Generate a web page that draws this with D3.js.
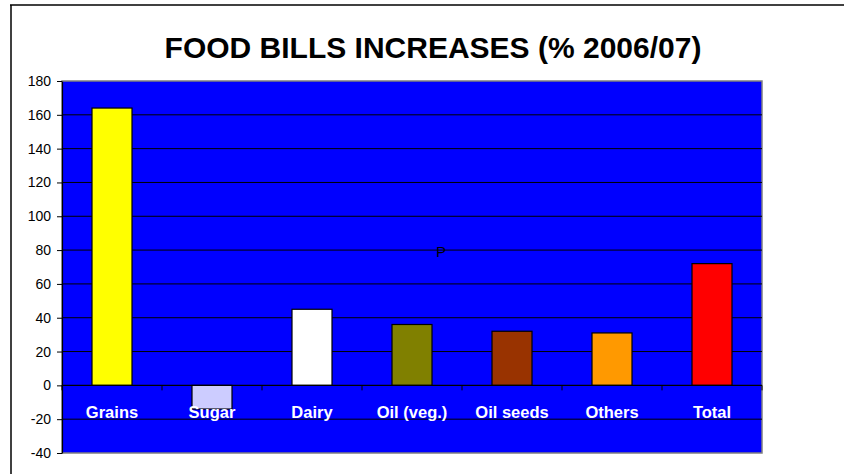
<!DOCTYPE html>
<html>
<head>
<meta charset="utf-8">
<script src="https://cdn.jsdelivr.net/npm/d3@7"></script>
<style>
  html, body { margin: 0; padding: 0; background: #fff; }
  svg { display: block; font-family: Arial, "Liberation Sans", sans-serif; }
</style>
</head>
<body>
<svg id="chart" width="844" height="474"></svg>
<script>
// Food bill increases by commodity group, 2006/07 (%)
const categories = ["Grains", "Sugar", "Dairy", "Oil (veg.)", "Oil seeds", "Others", "Total"];
const values = [164, -14, 45, 36, 32, 31, 72];
const barColors = ["#ffff00", "#ccccff", "#ffffff", "#808000", "#993300", "#ff9900", "#ff0000"];
const yTicks = [-40, -20, 0, 20, 40, 60, 80, 100, 120, 140, 160, 180];
const title = "FOOD BILLS INCREASES (% 2006/07)";

const svg = d3.select("#chart");
const plot = { left: 62, right: 762, top: 81, bottom: 453 };

// outer chart frame (top and left edges)
svg.append("line").attr("x1", 10).attr("x2", 844).attr("y1", 5).attr("y2", 5)
  .attr("stroke", "#000").attr("stroke-width", 1.5);
svg.append("line").attr("x1", 11).attr("x2", 11).attr("y1", 5).attr("y2", 474)
  .attr("stroke", "#000").attr("stroke-width", 1.5);

svg.append("text")
  .attr("x", 433).attr("y", 58)
  .attr("text-anchor", "middle")
  .style("font-size", "30px").attr("font-weight", "bold")
  .attr("fill", "#000")
  .text(title);

const x = d3.scaleBand().domain(categories).range([plot.left, plot.right]).paddingInner(0.6).paddingOuter(0.3);
const xOuter = d3.scaleBand().domain(categories).range([plot.left, plot.right]).padding(0);
const y = d3.scaleLinear().domain([-40, 180]).range([plot.bottom, plot.top]);

// plot background
svg.append("rect")
  .attr("x", plot.left).attr("y", plot.top)
  .attr("width", plot.right - plot.left).attr("height", plot.bottom - plot.top)
  .attr("fill", "#0000ff").attr("stroke", "#808080").attr("stroke-width", 1.5);

// horizontal gridlines
svg.append("g").selectAll("line")
  .data(yTicks.filter(t => t !== -40 && t !== 180 && t !== 0))
  .join("line")
  .attr("x1", plot.left).attr("x2", plot.right)
  .attr("y1", d => y(d)).attr("y2", d => y(d))
  .attr("stroke", "#000").attr("stroke-width", 1);

// bars
svg.append("g").selectAll("rect")
  .data(categories)
  .join("rect")
  .attr("x", d => x(d))
  .attr("width", x.bandwidth())
  .attr("y", (d, i) => y(Math.max(0, values[i])))
  .attr("height", (d, i) => Math.abs(y(values[i]) - y(0)))
  .attr("fill", (d, i) => barColors[i])
  .attr("stroke", "#000").attr("stroke-width", 1.2);

// y axis
const yAxis = d3.axisLeft(y).tickValues(yTicks).tickFormat(d => String(d)).tickSize(5).tickSizeOuter(0);
const gy = svg.append("g").attr("transform", `translate(${plot.left},0)`).call(yAxis);
gy.attr("font-size", null).attr("font-family", null);
gy.select(".domain").attr("stroke", "#000").attr("stroke-width", 1.2);
gy.selectAll(".tick line").attr("stroke", "#000");
gy.selectAll(".tick text")
  .style("font-size", "14px").attr("fill", "#000")
  .attr("x", -11);

// x axis along zero, ticks at category boundaries
svg.append("line")
  .attr("x1", plot.left).attr("x2", plot.right)
  .attr("y1", y(0)).attr("y2", y(0))
  .attr("stroke", "#000").attr("stroke-width", 1.2);
svg.append("g").selectAll("line")
  .data(categories.concat([null]))
  .join("line")
  .attr("x1", (d, i) => d === null ? plot.right : xOuter(d))
  .attr("x2", (d, i) => d === null ? plot.right : xOuter(d))
  .attr("y1", y(0)).attr("y2", y(0) + 5)
  .attr("stroke", "#000");

// category labels
svg.append("g").selectAll("text")
  .data(categories)
  .join("text")
  .attr("x", d => xOuter(d) + xOuter.bandwidth() / 2)
  .attr("y", y(0) + 33)
  .attr("text-anchor", "middle")
  .style("font-size", "16.5px").attr("font-weight", "bold")
  .attr("fill", "#fff")
  .text(d => d);

// stray marker inside the plot
svg.append("text")
  .attr("x", 441).attr("y", 257)
  .attr("text-anchor", "middle")
  .style("font-size", "15px").attr("fill", "#000")
  .text("P");
</script>
</body>
</html>
